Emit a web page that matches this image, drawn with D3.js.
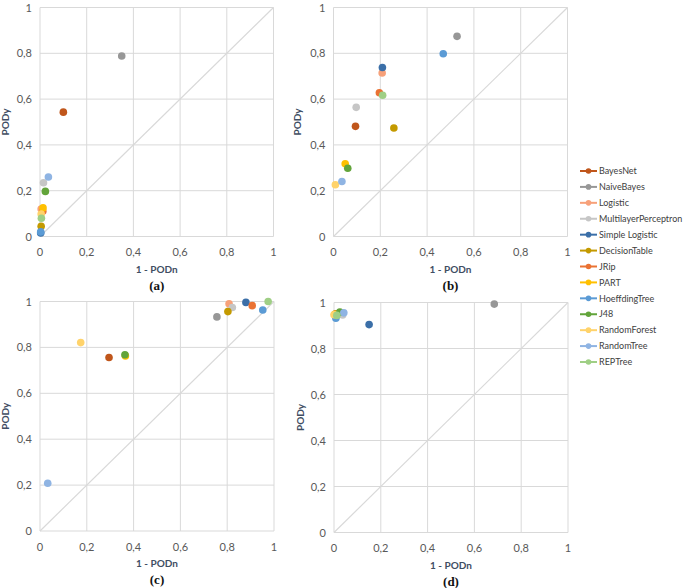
<!DOCTYPE html>
<html><head><meta charset="utf-8">
<script src="https://cdn.jsdelivr.net/npm/d3@7"></script>
<style>body{margin:0;background:#fff}svg{display:block}</style>
</head><body>
<svg id="c" width="685" height="588"></svg>
<script>
const algorithms = ["BayesNet","NaiveBayes","Logistic","MultilayerPerceptron","Simple Logistic","DecisionTable","JRip","PART","HoeffdingTree","J48","RandomForest","RandomTree","REPTree"];
const colors = ["#C0561B","#979797","#F7A17A","#C6C6C6","#3B6FA8","#C49A00","#EA7233","#FFC000","#5B9BD5","#62A43A","#FFD36B","#8FB4E3","#9FCF85"];
// [1 - PODn, PODy] per algorithm
const panelA = [[0.10,0.543],[0.35,0.788],[0.005,0.12],[0.015,0.235],[0.003,0.015],[0.005,0.045],[0.012,0.11],[0.013,0.125],[0.003,0.02],[0.023,0.197],[0.005,0.098],[0.036,0.26],[0.006,0.08]];
const panelB = [[0.094,0.481],[0.528,0.874],[0.208,0.714],[0.097,0.564],[0.209,0.738],[0.258,0.474],[0.196,0.628],[0.050,0.318],[0.469,0.798],[0.061,0.298],[0.008,0.226],[0.036,0.240],[0.210,0.617]];
const panelC = [[0.295,0.756],[0.756,0.933],[0.808,0.990],[0.822,0.974],[0.880,0.996],[0.803,0.956],[0.907,0.982],[0.365,0.763],[0.952,0.963],[0.363,0.768],[0.174,0.821],[0.033,0.208],[0.975,1.0]];
const panelD = [[0.010,0.950],[0.685,0.993],[0.012,0.950],[0.037,0.946],[0.150,0.904],[0.005,0.950],[0.010,0.948],[0.003,0.948],[0.008,0.932],[0.025,0.958],[0.0,0.947],[0.042,0.955],[0.012,0.944]];
const tickValues = [0,0.2,0.4,0.6,0.8,1];
const tickLabels = ["0","0,2","0,4","0,6","0,8","1"];
const panelLabels = ["(a)","(b)","(c)","(d)"];
const xTitle = "1 - PODn", yTitle = "PODy";

const svg = d3.select("#c");
const panels = [
  {data:panelA, x0:40, x1:273.5, y0:236.5, y1:7.5, label:panelLabels[0], ttlX:5},
  {data:panelB, x0:333.5, x1:567.5, y0:236.5, y1:7.5, label:panelLabels[1], ttlX:297},
  {data:panelC, x0:40, x1:274, y0:531, y1:301.5, label:panelLabels[2], ttlX:5},
  {data:panelD, x0:334, x1:568, y0:532.5, y1:302.5, label:panelLabels[3], ttlX:300}
];
const gridC = "#D9D9D9", tickC = "#595959", titleC = "#3F4E63";
const font = "Lato, 'Open Sans', sans-serif";
panels.forEach(p => {
  const x = d3.scaleLinear().domain([0,1]).range([p.x0,p.x1]);
  const y = d3.scaleLinear().domain([0,1]).range([p.y0,p.y1]);
  const g = svg.append("g");
  g.selectAll(".gx").data(tickValues).join("line").attr("class","gx")
    .attr("x1",d=>x(d)).attr("x2",d=>x(d)).attr("y1",y(0)).attr("y2",y(1))
    .attr("stroke",gridC).attr("stroke-width",1);
  g.selectAll(".gy").data(tickValues).join("line").attr("class","gy")
    .attr("y1",d=>y(d)).attr("y2",d=>y(d)).attr("x1",x(0)).attr("x2",x(1))
    .attr("stroke",gridC).attr("stroke-width",1);
  g.append("line").attr("x1",x(0)).attr("y1",y(0)).attr("x2",x(1)).attr("y2",y(1))
    .attr("stroke","#D9D9D9").attr("stroke-width",1.2);
  g.selectAll(".tx").data(tickValues).join("text").attr("class","tx")
    .attr("x",d=>x(d)).attr("y",y(0)+19.5).attr("text-anchor","middle")
    .attr("font-family",font).attr("font-size",11).attr("fill",tickC)
    .text((d,i)=>tickLabels[i]);
  g.selectAll(".ty").data(tickValues).join("text").attr("class","ty")
    .attr("x",x(0)-8).attr("y",d=>y(d)+4).attr("text-anchor","end")
    .attr("font-family",font).attr("font-size",11).attr("fill",tickC)
    .text((d,i)=>tickLabels[i]);
  g.append("text").attr("x",(p.x0+p.x1)/2).attr("y",y(0)+36).attr("text-anchor","middle")
    .attr("font-family",font).attr("font-weight","bold").attr("font-size",10).attr("fill",titleC)
    .text(xTitle);
  g.append("text").attr("transform",`translate(${p.ttlX+4},${(p.y0+p.y1)/2}) rotate(-90)`).attr("text-anchor","middle")
    .attr("font-family",font).attr("font-weight","bold").attr("font-size",10).attr("fill",titleC)
    .text(yTitle);
  g.append("text").attr("x",(p.x0+p.x1)/2).attr("y",y(0)+53).attr("text-anchor","middle")
    .attr("font-family","Liberation Serif, serif").attr("font-weight","bold").attr("font-size",13).attr("fill","#111")
    .text(p.label);
  g.selectAll("circle").data(p.data).join("circle")
    .attr("cx",d=>x(d[0])).attr("cy",d=>y(d[1])).attr("r",3.8)
    .attr("fill",(d,i)=>colors[i]);
});
const lg = svg.append("g");
const ly = d3.scalePoint().domain(algorithms).range([171,362]);
algorithms.forEach((a,i) => {
  const yy = ly(a);
  lg.append("line").attr("x1",580).attr("x2",597).attr("y1",yy).attr("y2",yy)
    .attr("stroke",colors[i]).attr("stroke-width",2);
  lg.append("circle").attr("cx",588.5).attr("cy",yy).attr("r",2.8).attr("fill",colors[i]);
  lg.append("text").attr("x",599).attr("y",yy+3.2)
    .attr("font-family",font).attr("font-size",9).attr("fill","#404040")
    .text(a);
});
</script>
</body></html>
